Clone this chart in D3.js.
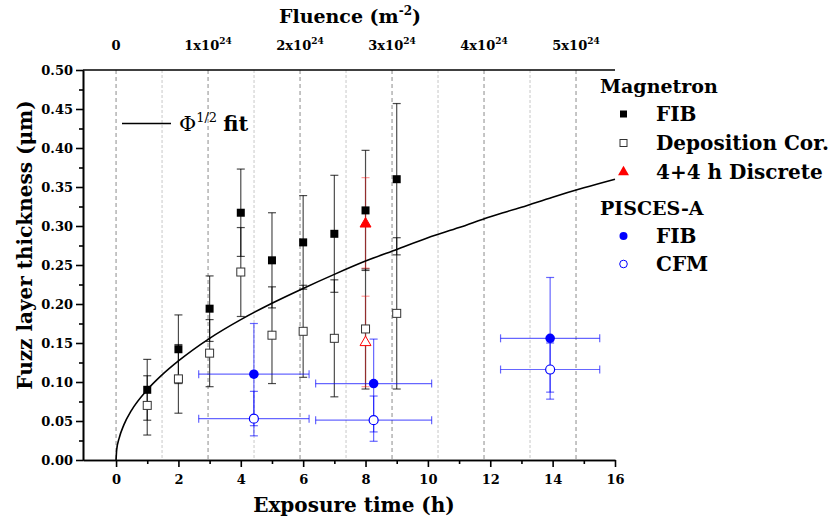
<!DOCTYPE html>
<html>
<head>
<meta charset="utf-8">
<script src="https://cdn.jsdelivr.net/npm/d3@7/dist/d3.min.js"></script>
<style>
  body { margin: 0; background: #fff; }
  svg text { font-family: "DejaVu Serif", serif; font-weight: bold; fill: #000; }
</style>
</head>
<body>
<svg id="chart" width="830" height="523"></svg>
<script>
  // Magnetron exposures (h) and fuzz thickness (um)
  var hours = [1, 2, 3, 4, 5, 6, 7, 8, 9]
  var fibThick = [0.090, 0.142, 0.194, 0.317, 0.256, 0.279, 0.290, 0.320, 0.360]
  var fibErr = [0.039, 0.044, 0.042, 0.056, 0.061, 0.060, 0.075, 0.077, 0.097]
  var depThick = [0.070, 0.104, 0.137, 0.241, 0.160, 0.165, 0.156, 0.168, 0.188]
  var depErr = [0.038, 0.044, 0.043, 0.057, 0.062, 0.059, 0.075, 0.077, 0.097]
  // 4+4 h discrete (filled = FIB, open = deposition corrected)
  var discHours = [8, 8]
  var discThick = [0.304, 0.152]
  var discErr = [0.058, 0.058]
  // PISCES-A
  var piscesHours = [4.42, 8.26, 13.92]
  var piscesHourErr = [1.77, 1.86, 1.59]
  var piscesFib = [0.110, 0.098, 0.156]
  var piscesFibLo = [0.044, 0.036, 0.078]
  var piscesFibHi = [0.175, 0.155, 0.234]
  var piscesCfm = [0.053, 0.051, 0.116]
  var piscesCfmLo = [0.031, 0.024, 0.087]
  var piscesCfmHi = [0.088, 0.082, 0.150]
  // Phi^1/2 fit
  var fitHours = [0, 0.02, 0.1, 0.25, 0.5, 1, 1.5, 2, 3, 4, 5, 6, 7, 8, 9, 10, 11, 12, 13, 14, 15, 16]
  var fitThick = [0, 0.013, 0.028, 0.045, 0.064, 0.090, 0.110, 0.127, 0.156, 0.180, 0.201, 0.220, 0.238, 0.255, 0.270, 0.285, 0.298, 0.312, 0.324, 0.337, 0.349, 0.360]
  // axis ticks
  var hourTicks = [0, 2, 4, 6, 8, 10, 12, 14, 16]
  var fluenceTicks = [0, 1, 2, 3, 4, 5]   // x 10^24 m^-2
  var hoursPer1e24 = 2.95

  var svg = d3.select("#chart")
  var x = d3.scaleLinear().domain([-1.06, 16]).range([83, 615])
  var y = d3.scaleLinear().domain([0, 0.5]).range([460, 70])
  var xTop = d3.scaleLinear().domain(x.domain().map(function(d) { return d / hoursPer1e24 })).range(x.range())

  // vertical dashed grid from the fluence axis
  var gridMinor = d3.range(0.5, 5.5, 1)
  svg.append("g").selectAll("line").data(gridMinor).enter().append("line")
    .attr("x1", function(d) { return xTop(d) }).attr("x2", function(d) { return xTop(d) })
    .attr("y1", 70).attr("y2", 460)
    .attr("stroke", "#c8c8c8").attr("stroke-width", 1).attr("stroke-dasharray", "3,2")
  svg.append("g").selectAll("line").data(fluenceTicks).enter().append("line")
    .attr("x1", function(d) { return xTop(d) }).attr("x2", function(d) { return xTop(d) })
    .attr("y1", 70).attr("y2", 460)
    .attr("stroke", "#8c8c8c").attr("stroke-width", 1).attr("stroke-dasharray", "4,3")

  // bottom axis
  var bottom = svg.append("g").attr("transform", "translate(0,460)")
  bottom.call(d3.axisBottom(x).tickValues(hourTicks).tickFormat(d3.format("d")).tickSize(7).tickSizeOuter(0))
  bottom.append("g").call(d3.axisBottom(x).tickValues(d3.range(1, 16, 2)).tickFormat("").tickSize(4).tickSizeOuter(0))
  bottom.selectAll("text").attr("font-size", 13).attr("dy", "1.05em").style("font-family", "DejaVu Serif").style("font-weight", "bold")
  bottom.selectAll("path, line").attr("stroke", "#000").attr("stroke-width", 1.6)

  // left axis
  var left = svg.append("g").attr("transform", "translate(83,0)")
  left.call(d3.axisLeft(y).tickValues(d3.range(0, 0.501, 0.05)).tickFormat(d3.format(".2f")).tickSize(7).tickSizeOuter(0))
  left.append("g").call(d3.axisLeft(y).tickValues(d3.range(0.025, 0.5, 0.05)).tickFormat("").tickSize(4).tickSizeOuter(0))
  left.selectAll("text").attr("font-size", 13).style("font-family", "DejaVu Serif").style("font-weight", "bold")
  left.selectAll("path, line").attr("stroke", "#000").attr("stroke-width", 1.6)

  // top frame line + fluence labels
  svg.append("line").attr("x1", 83).attr("x2", 615).attr("y1", 70).attr("y2", 70)
    .attr("stroke", "#000").attr("stroke-width", 1.6)
  var topLab = svg.append("g").selectAll("text").data(fluenceTicks).enter().append("text")
    .attr("x", function(d) { return xTop(d) }).attr("y", 50)
    .attr("text-anchor", "middle").attr("font-size", 13)
  topLab.each(function(d) {
    var t = d3.select(this)
    if (d === 0) { t.text("0"); return }
    t.append("tspan").text(d + "x10")
    t.append("tspan").attr("font-size", 9).attr("dy", -6).text("24")
  })

  // titles
  var ft = svg.append("text").attr("x", 350).attr("y", 23).attr("text-anchor", "middle").attr("font-size", 19)
  ft.append("tspan").text("Fluence (m")
  ft.append("tspan").attr("font-size", 12).attr("dy", -8).text("-2")
  ft.append("tspan").attr("dy", 8).text(")")
  svg.append("text").attr("x", 354).attr("y", 512).attr("text-anchor", "middle").attr("font-size", 20)
    .text("Exposure time (h)")
  svg.append("text").attr("transform", "translate(32,245) rotate(-90)").attr("text-anchor", "middle").attr("font-size", 20)
    .text("Fuzz layer thickness (\u03bcm)")

  // error bars helper
  function vbar(g, xs, lo, hi, color, op) {
    xs.forEach(function(h, i) {
      var gg = g.append("g").attr("stroke", color).attr("stroke-opacity", op).attr("stroke-width", 1.2)
      gg.append("line").attr("x1", x(h)).attr("x2", x(h)).attr("y1", y(lo[i])).attr("y2", y(hi[i]))
      gg.append("line").attr("x1", x(h) - 4).attr("x2", x(h) + 4).attr("y1", y(lo[i])).attr("y2", y(lo[i]))
      gg.append("line").attr("x1", x(h) - 4).attr("x2", x(h) + 4).attr("y1", y(hi[i])).attr("y2", y(hi[i]))
    })
  }
  function hbar(g, xs, xe, ys, color, op) {
    xs.forEach(function(h, i) {
      var gg = g.append("g").attr("stroke", color).attr("stroke-opacity", op).attr("stroke-width", 1.2)
      gg.append("line").attr("x1", x(h - xe[i])).attr("x2", x(h + xe[i])).attr("y1", y(ys[i])).attr("y2", y(ys[i]))
      gg.append("line").attr("x1", x(h - xe[i])).attr("x2", x(h - xe[i])).attr("y1", y(ys[i]) - 4).attr("y2", y(ys[i]) + 4)
      gg.append("line").attr("x1", x(h + xe[i])).attr("x2", x(h + xe[i])).attr("y1", y(ys[i]) - 4).attr("y2", y(ys[i]) + 4)
    })
  }
  var bars = svg.append("g")
  vbar(bars, hours, fibThick.map(function(v, i) { return v - fibErr[i] }), fibThick.map(function(v, i) { return v + fibErr[i] }), "#000", 0.7)
  vbar(bars, hours, depThick.map(function(v, i) { return v - depErr[i] }), depThick.map(function(v, i) { return v + depErr[i] }), "#000", 0.7)
  vbar(bars, discHours, discThick.map(function(v, i) { return v - discErr[i] }), discThick.map(function(v, i) { return v + discErr[i] }), "#ff0000", 0.4)
  vbar(bars, piscesHours, piscesFibLo, piscesFibHi, "#0000ff", 0.6)
  vbar(bars, piscesHours, piscesCfmLo, piscesCfmHi, "#0000ff", 0.6)
  hbar(bars, piscesHours, piscesHourErr, piscesFib, "#0000ff", 0.6)
  hbar(bars, piscesHours, piscesHourErr, piscesCfm, "#0000ff", 0.6)

  // fit curve
  var line = d3.line().x(function(d, i) { return x(fitHours[i]) }).y(function(d) { return y(d) }).curve(d3.curveMonotoneX)
  svg.append("path").attr("d", line(fitThick)).attr("fill", "none").attr("stroke", "#000").attr("stroke-width", 1.6)

  // markers
  var sq = 8
  svg.append("g").selectAll("rect").data(depThick).enter().append("rect")
    .attr("x", function(d, i) { return x(hours[i]) - sq / 2 }).attr("y", function(d) { return y(d) - sq / 2 })
    .attr("width", sq).attr("height", sq).attr("fill", "#fff").attr("stroke", "#333").attr("stroke-width", 1)
  svg.append("g").selectAll("rect").data(fibThick).enter().append("rect")
    .attr("x", function(d, i) { return x(hours[i]) - sq / 2 }).attr("y", function(d) { return y(d) - sq / 2 })
    .attr("width", sq).attr("height", sq).attr("fill", "#000")
  var tri = d3.symbol().type(d3.symbolTriangle).size(52)
  svg.append("g").selectAll("path").data(discThick).enter().append("path")
    .attr("d", tri)
    .attr("transform", function(d, i) { return "translate(" + x(discHours[i]) + "," + (y(d) + 1) + ")" })
    .attr("fill", function(d, i) { return i === 0 ? "#ff0000" : "#fff" })
    .attr("stroke", "#ff0000").attr("stroke-width", 1)
  svg.append("g").selectAll("circle").data(piscesCfm).enter().append("circle")
    .attr("cx", function(d, i) { return x(piscesHours[i]) }).attr("cy", function(d) { return y(d) })
    .attr("r", 4.5).attr("fill", "#fff").attr("stroke", "#0000ff").attr("stroke-width", 1.2)
  svg.append("g").selectAll("circle").data(piscesFib).enter().append("circle")
    .attr("cx", function(d, i) { return x(piscesHours[i]) }).attr("cy", function(d) { return y(d) })
    .attr("r", 4.8).attr("fill", "#0000ff")

  // fit legend
  svg.append("line").attr("x1", 122).attr("x2", 171).attr("y1", 123.5).attr("y2", 123.5).attr("stroke", "#000").attr("stroke-width", 1.6)
  var fl = svg.append("text").attr("x", 179).attr("y", 131).attr("font-size", 21)
  fl.append("tspan").style("font-weight", "normal").text("\u03a6")
  fl.append("tspan").attr("font-size", 13).attr("dy", -9).style("font-weight", "normal").text("1/2")
  fl.append("tspan").attr("dy", 9).attr("dx", 6).text("fit")

  // right legend
  var lg = svg.append("g")
  var heads = [["Magnetron", 93], ["PISCES-A", 215]]
  heads.forEach(function(h) {
    lg.append("text").attr("x", 600).attr("y", h[1]).attr("font-size", 19).text(h[0])
  })
  var items = [["FIB", 121, "sqf"], ["Deposition Cor.", 150, "sqo"], ["4+4 h Discrete", 179, "tri"], ["FIB", 243, "cf"], ["CFM", 271, "co"]]
  items.forEach(function(it) {
    var cy = it[1] - 7
    if (it[2] === "sqf") lg.append("rect").attr("x", 620).attr("y", cy - 3.5).attr("width", 7).attr("height", 7).attr("fill", "#000")
    if (it[2] === "sqo") lg.append("rect").attr("x", 620).attr("y", cy - 3.5).attr("width", 7).attr("height", 7).attr("fill", "#fff").attr("stroke", "#333")
    if (it[2] === "tri") lg.append("path").attr("d", tri).attr("transform", "translate(623.5," + cy + ")").attr("fill", "#ff0000")
    if (it[2] === "cf") lg.append("circle").attr("cx", 623.5).attr("cy", cy).attr("r", 4).attr("fill", "#0000ff")
    if (it[2] === "co") lg.append("circle").attr("cx", 623.5).attr("cy", cy).attr("r", 3.8).attr("fill", "#fff").attr("stroke", "#0000ff")
    lg.append("text").attr("x", 656).attr("y", it[1]).attr("font-size", 20).text(it[0])
  })
</script>
</body>
</html>
